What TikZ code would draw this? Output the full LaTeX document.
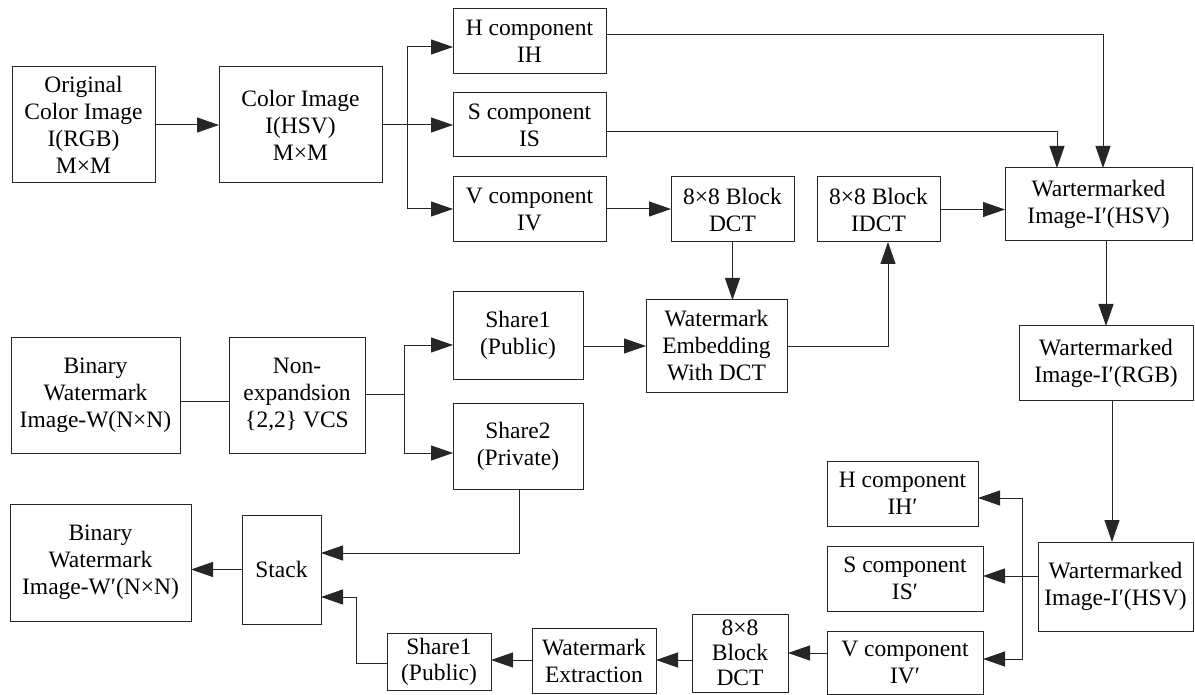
\documentclass[tikz,border=0pt]{standalone}
\usepackage{fontspec}
\setmainfont{Liberation Serif}
\usetikzlibrary{arrows.meta}
\begin{document}
\begin{tikzpicture}[x=1pt,y=-1pt,
  box/.style={draw=black!85, line width=1pt, inner sep=0pt, outer sep=0pt, align=center,
    font=\fontsize{23.5}{27}\selectfont},
  ln/.style={draw=black!85, line width=1pt},
  arr/.style={ln, -{Triangle[length=22pt,width=15pt]}}]
\useasboundingbox (0,0) rectangle (1195,695);
% top row
\node[box, minimum width=143, minimum height=116] (orig) at (83.5,125) {Original\\Color Image\\I(RGB)\\M×M};
\node[box, minimum width=163, minimum height=116] (hsv) at (300.5,125) {Color Image\\I(HSV)\\M×M};
\node[box, minimum width=153, minimum height=65] (H) at (529.5,41.5) {H component\\IH};
\node[box, minimum width=153, minimum height=64] (S) at (529.5,125) {S component\\IS};
\node[box, minimum width=153, minimum height=65] (V) at (529.5,209.5) {V component\\IV};
\node[box, minimum width=123, minimum height=65] (dct) at (732.5,209.5) {8×8 Block\\DCT};
\node[box, minimum width=123, minimum height=65] (idct) at (878.5,209.5) {8×8 Block\\IDCT};
\node[box, minimum width=187, minimum height=73] (whsv) at (1098.5,204.5) {Wartermarked\\Image-I′(HSV)};
\node[box, minimum width=174, minimum height=74] (wrgb) at (1106,363) {Wartermarked\\Image-I′(RGB)};
% middle row
\node[box, minimum width=169, minimum height=116] (bin) at (95.5,395) {Binary\\Watermark\\Image-W(N×N)};
\node[box, minimum width=136, minimum height=116] (nonexp) at (297,395) {Non-\\expandsion\\\{2,2\} VCS};
\node[box, minimum width=130, minimum height=87] (sha) at (518,335.5) {Share1\\(Public)};
\node[box, minimum width=130, minimum height=86] (shb) at (518,446) {Share2\\(Private)};
\node[box, minimum width=141, minimum height=92] (embed) at (716.5,346) {Watermark\\Embedding\\With DCT};
% bottom row
\node[box, minimum width=181, minimum height=117] (binw) at (100.5,562.5) {Binary\\Watermark\\Image-W′(N×N)};
\node[box, minimum width=79, minimum height=109] (stack) at (281.5,569.5) {Stack};
\node[box, minimum width=104, minimum height=57, font=\fontsize{23.5}{26}\selectfont] (shc) at (439,661.5) {Share1\\(Public)};
\node[box, minimum width=124, minimum height=65] (extr) at (594,660.5) {Watermark\\Extraction};
\node[box, minimum width=96, minimum height=78, font=\fontsize{23.5}{25}\selectfont] (dcttwo) at (740,653) {8×8\\Block\\DCT};
\node[box, minimum width=151, minimum height=65] (Hp) at (902.5,493.5) {H component\\IH′};
\node[box, minimum width=156, minimum height=65] (Sp) at (905,578.5) {S component\\IS′};
\node[box, minimum width=156, minimum height=63] (Vp) at (905,662.5) {V component\\IV′};
\node[box, minimum width=155, minimum height=89] (whsvb) at (1115.5,586.5) {Wartermarked\\Image-I′(HSV)};
% connectors top
\draw[arr] (orig.east) -- (hsv.west);
\coordinate (ba) at (407,125);
\draw[ln] (hsv.east) -- (ba);
\draw[arr] (ba) |- (H.west |- 0,47);
\draw[arr] (ba) -- (S.west |- ba);
\draw[arr] (ba) |- (V.west |- 0,209);
\draw[arr] (H.east |- 0,35) -| (whsv.north -| 1103,0);
\draw[arr] (S.east |- 0,132) -| (whsv.north -| 1057,0);
\draw[arr] (V.east |- 0,209) -- (dct.west |- 0,209);
\draw[arr] (dct.south) -- (dct.south |- embed.north);
\draw[arr] (embed.east) -| (idct.south -| 888,0);
\draw[arr] (idct.east) -- (idct.east -| whsv.west);
\draw[arr] (wrgb.north |- whsv.south) -- (wrgb.north);
\draw[arr] (wrgb.south -| 1112,0) -- (whsvb.north -| 1112,0);
% middle
\draw[ln] (bin.east |- 0,401) -- (nonexp.west |- 0,401);
\coordinate (bb) at (404,394);
\draw[ln] (nonexp.east |- bb) -- (bb);
\draw[arr] (bb) |- (sha.west |- 0,345);
\draw[arr] (bb) |- (shb.west |- 0,453);
\draw[arr] (sha.east |- 0,346) -- (embed.west |- 0,346);
% bottom
\coordinate (bc) at (1022,576);
\draw[ln] (whsvb.west |- bc) -- (bc);
\draw[arr] (bc) |- (Hp.east |- 0,498);
\draw[arr] (bc) -- (Sp.east |- bc);
\draw[arr] (bc) |- (Vp.east |- 0,659);
\draw[arr] (Vp.west |- 0,653) -- (dcttwo.east |- 0,653);
\draw[arr] (dcttwo.west |- 0,660) -- (extr.east |- 0,660);
\draw[arr] (extr.west |- 0,660) -- (shc.east |- 0,660);
\draw[arr] (shc.west |- 0,663) -| (356,597) -- (stack.east |- 0,597);
\draw[arr] (shb.south -| 519,0) |- (stack.east |- 0,553);
\draw[arr] (stack.west) -- (binw.east |- stack.west);
\end{tikzpicture}
\end{document}
